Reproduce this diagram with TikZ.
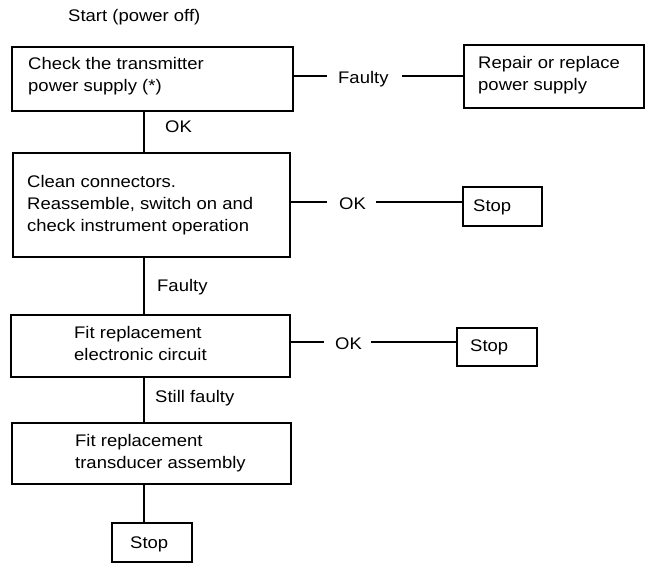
\documentclass[tikz,border=0pt]{standalone}
\usepackage{fontspec}
\setmainfont[FakeStretch=1.1]{Liberation Sans}
\begin{document}
\begin{tikzpicture}[x=1pt,y=-1pt,
  boxnode/.style={draw=black,line width=2.3pt,rectangle,inner sep=0pt,anchor=north west},
  txt/.style={inner sep=0pt,align=left,anchor=base west,font=\fontsize{16.8}{22}\selectfont},
  lbl/.style={inner sep=0pt,anchor=base west,font=\fontsize{16.8}{22}\selectfont},
  conn/.style={draw=black,line width=2pt}]
\useasboundingbox[fill=white] (0,0) rectangle (647,563);
\coordinate (spine) at (144,0);
% start
\node[lbl] (start) at (68,21) {Start (power off)};
% box 1
\node[boxnode,minimum width=281pt,minimum height=64pt] (b1) at (11,46) {};
\node[txt] (t1) at (28,91) {Check the transmitter\\power supply (*)};
% repair box
\node[boxnode,minimum width=180pt,minimum height=63pt] (rep) at (463,44) {};
\node[txt] (trep) at (478,90) {Repair or replace\\power supply};
% faulty label 1
\node[lbl] (f1) at (338,83) {Faulty};
\coordinate (f1l) at (327,76);
\coordinate (f1r) at (402,76);
\draw[conn] (b1.east |- f1l) -- (f1l);
\draw[conn] (f1r) -- (rep.west |- f1r);
% OK label 1
\node[lbl] (ok1) at (165,132) {OK};
% box 2
\node[boxnode,minimum width=277pt,minimum height=104pt] (b2) at (12,152) {};
\node[txt] (t2) at (27,231) {Clean connectors.\\Reassemble, switch on and\\check instrument operation};
\draw[conn] (b1.south -| spine) -- (b2.north -| spine);
% stop 1
\node[boxnode,minimum width=79pt,minimum height=39pt] (s1) at (462,186) {};
\node[lbl] (ts1) at (473,211) {Stop};
\node[lbl] (ok2) at (339,209) {OK};
\coordinate (ok2l) at (327,202);
\coordinate (ok2r) at (376,202);
\draw[conn] (b2.east |- ok2l) -- (ok2l);
\draw[conn] (ok2r) -- (s1.west |- ok2r);
% faulty label 2
\node[lbl] (f2) at (157,291) {Faulty};
% box 3
\node[boxnode,minimum width=279pt,minimum height=62pt] (b3) at (10,314) {};
\node[txt] (t3) at (74,360) {Fit replacement\\electronic circuit};
\draw[conn] (b2.south -| spine) -- (b3.north -| spine);
% stop 2
\node[boxnode,minimum width=80pt,minimum height=38pt] (s2) at (456,327) {};
\node[lbl] (ts2) at (470,351) {Stop};
\node[lbl] (ok3) at (335,349) {OK};
\coordinate (ok3l) at (324,342);
\coordinate (ok3r) at (371,342);
\draw[conn] (b3.east |- ok3l) -- (ok3l);
\draw[conn] (ok3r) -- (s2.west |- ok3r);
% still faulty
\node[lbl] (sf) at (155,402) {Still faulty};
% box 4
\node[boxnode,minimum width=279pt,minimum height=61pt] (b4) at (11,422) {};
\node[txt] (t4) at (75,468) {Fit replacement\\transducer assembly};
\draw[conn] (b3.south -| spine) -- (b4.north -| spine);
% stop 3
\node[boxnode,minimum width=80pt,minimum height=39pt] (s3) at (111,522) {};
\node[lbl] (ts3) at (130,548) {Stop};
\draw[conn] (b4.south -| spine) -- (s3.north -| spine);
\end{tikzpicture}
\end{document}
